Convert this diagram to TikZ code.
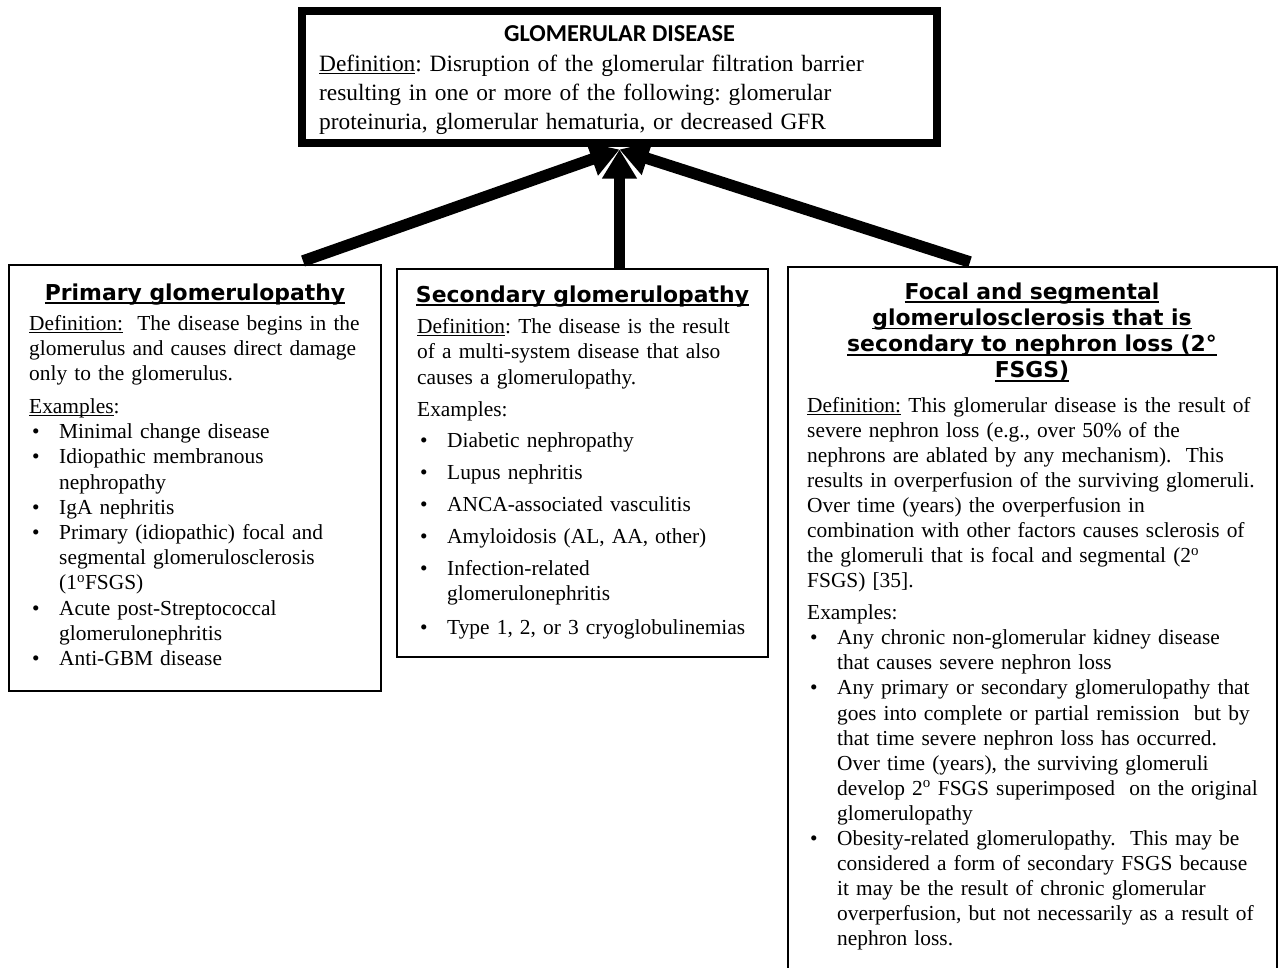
\documentclass[tikz,border=0pt]{standalone}
\usepackage{fontspec}
\setmainfont{Liberation Serif}
\newfontfamily\vfont{DejaVu Sans}
\newfontfamily\cfont{Carlito}
\usetikzlibrary{arrows.meta,calc}
\frenchspacing
\newcommand\myul[1]{\leavevmode\setbox0=\hbox{#1}\rlap{\rule[-3pt]{\wd0}{1pt}}\box0\relax}
\newcommand\hul[1]{\leavevmode\setbox0=\hbox{#1}\rlap{\rule[-4pt]{\wd0}{1.8pt}}\box0\relax}
\newcommand\bitem[2][0pt]{\par\vspace{#1}\hangindent=30pt\hangafter=1\noindent\makebox[30pt][l]{\hspace{3pt}\textbullet}#2}
\begin{document}
\begin{tikzpicture}[x=1pt,y=-1pt,
  box/.style={draw,line width=2pt,inner sep=0pt,outer sep=0pt,anchor=north west},
  body/.style={anchor=base west,inner sep=0pt,align=left},
  head/.style={anchor=base,inner sep=0pt,align=center,font={\vfont\bfseries\fontsize{21.9}{26.3}\selectfont}},
  link/.style={line width=11.5pt,-{Triangle[length=29pt,width=33pt]}}]
\fill[white] (0,0) rectangle (1282,967);
\useasboundingbox (0,0) rectangle (1282,967);

% boxes
\node[box,line width=7.5pt,minimum width=635pt,minimum height=132pt] (top) at (302,11) {};
\node[box,minimum width=372pt,minimum height=425.5pt] (prim) at (9,265) {};
\node[box,minimum width=371pt,minimum height=388pt] (sec) at (397,269) {};
\node[box,minimum width=489pt,minimum height=712pt] (right) at (788,267) {};

% top box text
\node[anchor=base,inner sep=0pt,font={\cfont\bfseries\fontsize{24.3}{28}\selectfont}] (toph) at (619.5,41) {GLOMERULAR DISEASE};
\node[body,text width=615pt,font={\fontsize{23.4}{29}\selectfont}] (topb) at (319,71)
{\myul{Definition}: Disruption of the glomerular filtration barrier\\
resulting in one or more of the following: glomerular\\
proteinuria, glomerular hematuria, or decreased GFR};

% primary
\node[head] (primh) at (195,300) {\hul{Primary glomerulopathy}};
\node[body,text width=350pt,font={\fontsize{21.4}{25.2}\selectfont}] (primb) at (29,330)
{\myul{Definition:}\ \ The disease begins in the\\
glomerulus and causes direct damage\\
only to the glomerulus.\par\vspace{7.8pt}
\noindent\myul{Examples}:
\bitem{Minimal change disease}
\bitem{Idiopathic membranous\newline nephropathy}
\bitem{IgA nephritis}
\bitem{Primary (idiopathic) focal and\newline segmental glomerulosclerosis\newline (1\textsuperscript{o}FSGS)}
\bitem{Acute post-Streptococcal\newline glomerulonephritis}
\bitem{Anti-GBM disease}\par};

% secondary
\node[head] (sech) at (582.5,302) {\hul{Secondary glomerulopathy}};
\node[body,text width=350pt,font={\fontsize{21.4}{25.5}\selectfont}] (secb) at (417,333)
{\myul{Definition}: The disease is the result\\
of a multi-system disease that also\\
causes a glomerulopathy.\par\vspace{6.5pt}
\noindent Examples:
\bitem[5.5pt]{Diabetic nephropathy}
\bitem[6.5pt]{Lupus nephritis}
\bitem[6.5pt]{ANCA-associated vasculitis}
\bitem[6.5pt]{Amyloidosis (AL, AA, other)}
\bitem[6.5pt]{Infection-related\newline glomerulonephritis}
\bitem[8pt]{Type 1, 2, or 3 cryoglobulinemias}\par};

% right
\node[head,text width=480pt] (righth) at (1032,299) {\hul{Focal and segmental}\par\hul{glomerulosclerosis that is}\par\hul{secondary to nephron loss (2°}\par\hul{FSGS)}\par};
\node[body,text width=470pt,font={\fontsize{21.4}{25.1}\selectfont}] (rightb) at (807,412)
{\myul{Definition:} This glomerular disease is the result of\\
severe nephron loss (e.g., over 50\% of the\\
nephrons are ablated by any mechanism).\ \ This\\
results in overperfusion of the surviving glomeruli.\\
Over time (years) the overperfusion in\\
combination with other factors causes sclerosis of\\
the glomeruli that is focal and segmental (2\textsuperscript{o}\\
FSGS) [35].\par\vspace{6.8pt}
\noindent Examples:
\bitem{Any chronic non-glomerular kidney disease\newline that causes severe nephron loss}
\bitem{Any primary or secondary glomerulopathy that\newline goes into complete or partial remission\ \ but by\newline that time severe nephron loss has occurred.\newline Over time (years), the surviving glomeruli\newline develop 2\textsuperscript{o} FSGS superimposed\ \ on the original\newline glomerulopathy}
\bitem{Obesity-related glomerulopathy.\ \ This may be\newline considered a form of secondary FSGS because\newline it may be the result of chronic glomerular\newline overperfusion, but not necessarily as a result of\newline nephron loss.}\par};

% arrows
\coordinate (la) at ($(prim.north west)+(294,-4)$);
\coordinate (ma) at ($(sec.north west)+(222.5,0)$);
\coordinate (ra) at ($(right.north west)+(182,-5)$);
\draw[link] (la) -- ([yshift=-6.5pt]top.south);
\draw[link] (ra) -- ([yshift=-6.5pt]top.south);
\draw[link] (ma) -- ([yshift=-6.5pt]top.south);
\end{tikzpicture}
\end{document}
